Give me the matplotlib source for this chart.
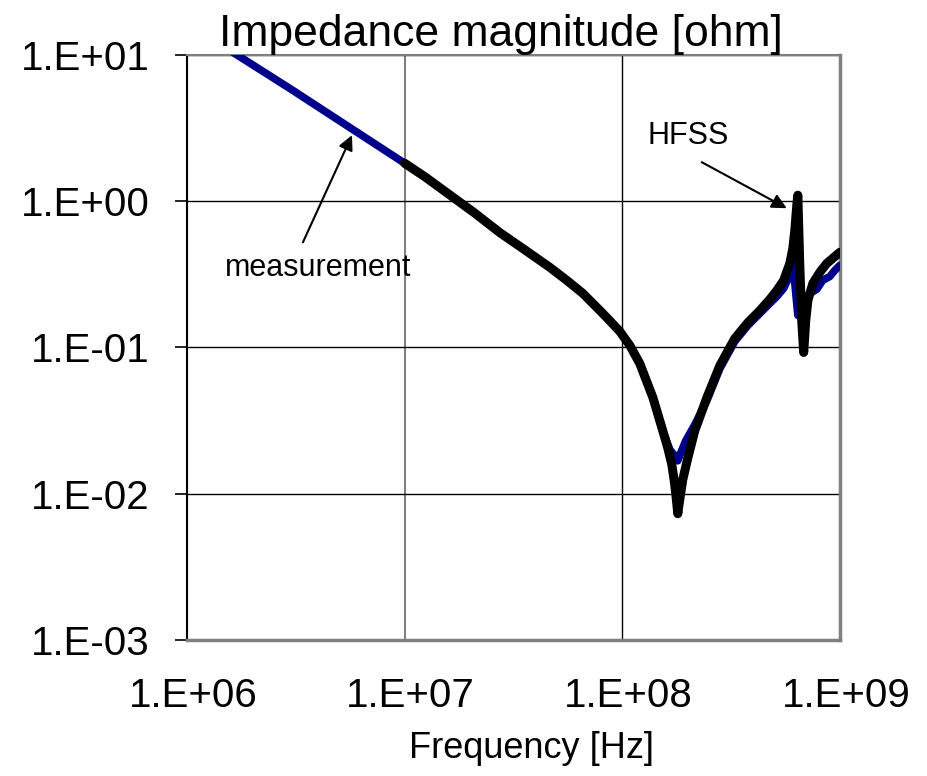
import numpy as np
import matplotlib
matplotlib.use('agg')
import matplotlib.pyplot as plt
import matplotlib.transforms as mtransforms

plt.rcParams['font.family'] = ['Liberation Sans', 'DejaVu Sans']

# Measured impedance magnitude [ohm] vs frequency [Hz]
meas_freq = [1.0e6, 3.0e6, 1.0e7, 1.24e7, 1.62e7, 2.10e7, 2.74e7, 3.57e7,
             4.65e7, 5.56e7, 6.6e7, 7.48e7, 8.5e7, 9.75e7, 1.084e8, 1.204e8,
             1.383e8, 1.535e8, 1.655e8, 1.745e8, 1.80e8, 1.858e8, 1.959e8,
             2.155e8, 2.45e8, 2.81e8, 3.29e8, 3.78e8, 4.29e8, 4.76e8, 5.13e8,
             5.52e8, 5.89e8, 6.08e8, 6.41e8, 6.75e8, 7.28e8, 7.83e8, 8.34e8,
             8.99e8, 9.48e8, 1.0e9]
meas_z = [16.5, 5.85, 1.82, 1.47, 1.10, 0.83, 0.61, 0.465,
          0.353, 0.288, 0.234, 0.194, 0.160, 0.1288, 0.1032, 0.0777,
          0.0455, 0.0270, 0.0200, 0.0182, 0.0168, 0.0191, 0.0231,
          0.0297, 0.0434, 0.0718, 0.110, 0.1415, 0.171, 0.200, 0.223,
          0.254, 0.311, 0.382, 0.166, 0.210, 0.234, 0.250, 0.288,
          0.306, 0.337, 0.365]

# HFSS simulation
hfss_freq = [1.0e7, 1.24e7, 1.62e7, 2.10e7, 2.74e7, 3.57e7, 4.65e7, 5.56e7,
             6.6e7, 7.48e7, 8.5e7, 9.75e7, 1.084e8, 1.204e8, 1.383e8,
             1.535e8, 1.62e8, 1.69e8, 1.74e8, 1.775e8, 1.80e8, 1.835e8,
             1.898e8, 2.0e8, 2.155e8, 2.45e8, 2.81e8, 3.29e8, 3.78e8,
             4.29e8, 4.76e8, 5.13e8, 5.52e8, 5.89e8, 6.08e8, 6.21e8, 6.34e8,
             6.41e8, 6.54e8, 6.68e8, 6.82e8, 6.97e8, 7.13e8, 7.51e8, 8.09e8,
             8.71e8, 1.0e9]
hfss_z = [1.82, 1.47, 1.10, 0.83, 0.61, 0.465, 0.353, 0.288,
          0.234, 0.194, 0.160, 0.1288, 0.1032, 0.0777, 0.0455,
          0.0270, 0.0205, 0.0158, 0.0118, 0.0090, 0.0073, 0.0090,
          0.0125, 0.0175, 0.0270, 0.0455, 0.0753, 0.1153, 0.148,
          0.179, 0.213, 0.245, 0.288, 0.376, 0.476, 0.633, 0.94,
          1.10, 0.376, 0.153, 0.0925, 0.153, 0.210, 0.274, 0.327,
          0.376, 0.448]

xticks = [1e6, 1e7, 1e8, 1e9]
xticklabels = ['1.E+06', '1.E+07', '1.E+08', '1.E+09']
yticks = [1e-3, 1e-2, 1e-1, 1e0, 1e1]
yticklabels = ['1.E-03', '1.E-02', '1.E-01', '1.E+00', '1.E+01']

fig = plt.figure(figsize=(9.27, 7.76), dpi=100)
ax = fig.add_axes([0.2017, 0.1753, 0.7043, 0.7538])

ax.plot(meas_freq, meas_z, color='#00008c', lw=5.5, solid_joinstyle='round',
        solid_capstyle='round', zorder=3)
ax.plot(hfss_freq, hfss_z, color='black', lw=6.5, solid_joinstyle='round',
        solid_capstyle='round', zorder=4)

ax.set_xscale('log')
ax.set_yscale('log')
ax.set_xlim(1e6, 1e9)
ax.set_ylim(1e-3, 1e1)
ax.set_xticks(xticks)
ax.set_xticklabels(xticklabels)
ax.set_yticks(yticks)
ax.set_yticklabels(yticklabels)
ax.minorticks_off()
ax.tick_params(axis='x', length=0, pad=27, labelsize=29)
ax.tick_params(axis='y', direction='out', length=9, width=1.2, pad=18,
               labelsize=29)

# nudge the frequency labels a little to the right
shift = mtransforms.ScaledTranslation(6 / 100, 0, fig.dpi_scale_trans)
for lbl in ax.get_xticklabels():
    lbl.set_transform(lbl.get_transform() + shift)

ax.yaxis.grid(True, color='black', lw=1)
ax.xaxis.grid(True, color='#808080', lw=1.5)
ax.get_xgridlines()[2].set_color('black')
ax.get_xgridlines()[2].set_linewidth(1)
ax.set_axisbelow(True)

ax.spines['left'].set_color('black')
ax.spines['left'].set_linewidth(1.5)
ax.spines['top'].set_color('#808080')
ax.spines['top'].set_linewidth(1.5)
ax.spines['right'].set_color('#808080')
ax.spines['right'].set_linewidth(2.5)
ax.spines['bottom'].set_color('#808080')
ax.spines['bottom'].set_linewidth(2.5)

ax.set_title('Impedance magnitude [ohm]', fontsize=32, pad=6, x=0.481)
ax.set_xlabel('Frequency [Hz]', fontsize=26, labelpad=6)
ax.xaxis.set_label_coords(0.527, -0.155)

# Labels with arrows pointing to the curves
arrow = dict(arrowstyle='-|>', color='black', lw=1.5, mutation_scale=22,
             shrinkA=0, shrinkB=0)
ax.annotate('', xy=(5.73e6, 2.83), xytext=(3.41e6, 0.524), arrowprops=arrow)
ax.text(4.0e6, 0.348, 'measurement', fontsize=22, ha='center', va='center')
ax.annotate('', xy=(5.70e8, 0.896), xytext=(2.32e8, 1.85), arrowprops=arrow)
ax.text(2.0e8, 2.79, 'HFSS', fontsize=22, ha='center', va='center')

plt.savefig('out.png', dpi=100)
